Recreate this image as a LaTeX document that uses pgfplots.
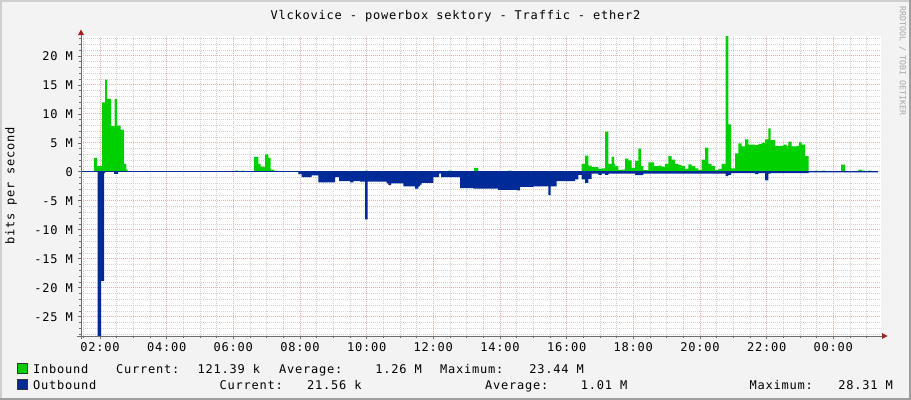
\documentclass[border=0pt]{standalone}
\usepackage{pgfplots}
\pgfplotsset{compat=1.18}
\usepackage{fontspec}
\newfontfamily\rrd[LetterSpace=6.5]{DejaVu Sans Mono}
\newfontfamily\rrdsm{DejaVu Sans Mono}
\newcommand\rrdf{\rrd\fontsize{12bp}{14bp}\selectfont}
\definecolor{inb}{HTML}{00CF00}
\definecolor{outb}{HTML}{002A97}
\definecolor{canvas}{HTML}{F3F3F3}
\definecolor{shadea}{HTML}{CFCFCF}
\definecolor{shadeb}{HTML}{9E9E9E}
\definecolor{axcol}{HTML}{6E6E6E}
\definecolor{arrowc}{HTML}{A02020}
\definecolor{mgridc}{HTML}{EBB0B0}
\definecolor{gridc}{HTML}{D2D2D2}
\definecolor{credit}{HTML}{A8A8A8}

% traffic in Mbit/s, x in hours (02:00 = 2, 00:00 = 24)
\pgfplotstableread{
h v
1.43 0
1.82 2.4
1.91 1.0
2.06 12.0
2.15 15.9
2.21 12.6
2.33 7.9
2.44 12.6
2.51 8.0
2.62 7.3
2.72 1.4
2.79 0.4
2.83 0
6.05 0.2
6.14 0
6.25 0.2
6.33 0
6.62 2.6
6.75 1.4
6.82 0.9
6.95 3.0
7.05 2.4
7.12 0.4
7.23 0
9.95 0.2
10.04 0
12.44 0.2
12.56 0
13.22 0.7
13.35 0
14.24 0.2
14.35 0
16.45 1.4
16.55 2.8
16.65 1.1
16.75 0.8
16.95 0.5
17.05 0.6
17.15 6.95
17.25 1.4
17.35 2.6
17.42 1.4
17.45 1.0
17.55 0.3
17.65 0.4
17.75 2.3
17.85 2.0
17.95 0.7
18.05 1.9
18.15 4.0
18.23 1.0
18.30 0.3
18.45 1.65
18.62 1.0
18.75 1.1
18.85 0.9
18.95 1.4
19.05 2.7
19.15 2.1
19.25 1.4
19.35 1.2
19.45 1.0
19.55 0.5
19.65 1.3
19.75 1.0
19.85 0.6
19.95 0.3
20.05 2.1
20.15 4.2
20.25 1.4
20.35 1.0
20.45 0.3
20.55 0.5
20.65 1.4
20.77 23.44
20.85 8.2
20.93 0.6
21.05 3.2
21.15 4.9
21.25 4.4
21.35 5.6
21.45 4.7
21.55 4.7
21.65 4.6
21.75 4.8
21.85 5.0
21.95 5.6
22.05 7.5
22.12 5.5
22.25 4.5
22.50 4.7
22.60 4.5
22.65 5.2
22.75 4.4
22.90 4.5
22.97 5.1
23.05 4.7
23.15 2.7
23.26 0
23.45 0.2
23.55 0
23.65 0.2
23.75 0
24.23 1.26
24.35 0
24.75 0.4
24.85 0.2
24.95 0
25.05 0.2
25.15 0
25.25 0.12
25.34 0
}\inbound

\pgfplotstableread{
h v
1.43 0
1.925 -28.31
2.03 -18.8
2.12 -0.2
2.15 0
2.42 -0.35
2.54 0
7.95 -0.4
8.05 -0.9
8.35 -0.6
8.55 -1.8
9.05 -0.9
9.17 -1.6
9.50 -1.8
9.60 -1.6
9.80 -1.7
9.95 -8.2
10.03 -1.7
10.60 -2.0
10.65 -2.3
10.73 -2.0
11.10 -2.5
11.45 -2.9
11.55 -2.5
11.60 -2.2
11.65 -1.9
12.00 -0.9
12.17 -0.3
12.23 -0.9
12.80 -2.8
13.20 -2.9
13.94 -3.1
14.50 -3.2
14.60 -2.6
15.00 -2.5
15.45 -4.0
15.52 -2.5
15.70 -1.6
16.25 -1.3
16.35 -0.5
16.45 -1.3
16.55 -1.9
16.65 -1.2
16.75 -0.3
16.95 -0.5
17.05 -0.3
17.15 -0.5
17.25 -0.3
18.05 -0.55
18.30 -0.3
20.77 -0.75
20.85 -0.5
20.93 -0.2
21.65 -0.4
21.75 -0.2
21.95 -1.45
22.05 -0.3
22.12 -0.2
23.26 -0.1
25.34 0
}\outbound

\begin{document}
\begin{tikzpicture}
\useasboundingbox (0,0) rectangle (911bp,-400bp);
\fill[canvas] (0,0) rectangle (911bp,-400bp);
\fill[shadea] (0,0) rectangle (911bp,-2bp);
\fill[shadea] (0,0) rectangle (2bp,-400bp);
\fill[shadeb] (909bp,0) rectangle (911bp,-400bp);
\fill[shadeb] (0,-398bp) rectangle (911bp,-400bp);

\begin{axis}[
    at={(81bp,-336bp)}, anchor=south west,
    scale only axis, width=800bp, height=300bp,
    xmin=1.43, xmax=25.43, ymin=-28.31, ymax=23.44,
    axis line style={draw=none},
    axis background/.style={fill=white},
    xtick={2,4,...,24},
    xticklabels={02:00,04:00,06:00,08:00,10:00,12:00,14:00,16:00,18:00,20:00,22:00,00:00},
    minor xtick={1.5,2.5,3,3.5,4.5,5,5.5,6.5,7,7.5,8.5,9,9.5,10.5,11,11.5,12.5,13,13.5,14.5,15,15.5,16.5,17,17.5,18.5,19,19.5,20.5,21,21.5,22.5,23,23.5,24.5,25},
    ytick={-25,-20,...,20},
    yticklabels={-25 M,-20 M,-15 M,-10 M,-5 M,0,5 M,10 M,15 M,20 M},
    minor ytick={-28,-27,-26,-24,-23,-22,-21,-19,-18,-17,-16,-14,-13,-12,-11,-9,-8,-7,-6,-4,-3,-2,-1,1,2,3,4,6,7,8,9,11,12,13,14,16,17,18,19,21,22,23},
    grid=both,
    major grid style={mgridc, line width=1bp, dash pattern=on 1bp off 1bp},
    minor grid style={gridc, line width=1bp, dash pattern=on 1bp off 1bp},
    tick pos=left, tick align=outside,
    major tick length=3bp, minor tick length=2bp,
    tick style={axcol, line width=0.8bp},
    ticklabel style={font=\rrdf, inner sep=0pt},
    xticklabel style={anchor=north, yshift=-3bp},
    yticklabel style={anchor=east, xshift=-5bp},
]
\addplot[const plot, fill=inb, draw=none] table[x=h, y=v] {\inbound};
\addplot[const plot, fill=outb, draw=none] table[x=h, y=v] {\outbound};
\addplot[outb, line width=1.2bp] coordinates {(1.43,0) (25.34,0)};
\end{axis}

% axes with arrows
\draw[axcol, line width=1bp] (77bp,-336bp) -- (883bp,-336bp);
\draw[axcol, line width=1bp] (81bp,-339bp) -- (81bp,-34bp);
\fill[arrowc] (882bp,-333bp) -- (887.5bp,-336bp) -- (882bp,-339bp) -- cycle;
\fill[arrowc] (78bp,-35bp) -- (81bp,-29.5bp) -- (84bp,-35bp) -- cycle;

% title, axis label, credit
\node[anchor=base, inner sep=0pt, font=\rrdf] at (455.5bp,-19bp) {Vlckovice - powerbox sektory - Traffic - ether2};
\node[rotate=90, inner sep=0pt, font=\rrdf] at (11bp,-186bp) {bits per second};
\node[rotate=-90, inner sep=0pt, text=credit, font=\rrdsm\fontsize{8.3bp}{10bp}\selectfont] at (902.5bp,-61bp) {RRDTOOL / TOBI OETIKER};

% legend
\filldraw[fill=inb, draw=black!80, line width=0.8bp] (17.5bp,-363.5bp) rectangle (27.5bp,-373.5bp);
\filldraw[fill=outb, draw=black!80, line width=0.8bp] (17.5bp,-379.5bp) rectangle (27.5bp,-389.5bp);
\begin{scope}[every node/.style={inner sep=0pt, font=\rrdf}]
\node[anchor=base west] at (33bp,-373bp) {Inbound};
\node[anchor=base west] at (116bp,-373bp) {Current:};
\node[anchor=base west] at (197.5bp,-373bp) {121.39 k};
\node[anchor=base west] at (279bp,-373bp) {Average:};
\node[anchor=base east] at (422bp,-373bp) {1.26 M};
\node[anchor=base west] at (440bp,-373bp) {Maximum:};
\node[anchor=base east] at (584bp,-373bp) {23.44 M};
\node[anchor=base west] at (33bp,-389bp) {Outbound};
\node[anchor=base west] at (219.5bp,-389bp) {Current:};
\node[anchor=base west] at (307bp,-389bp) {21.56 k};
\node[anchor=base west] at (485bp,-389bp) {Average:};
\node[anchor=base east] at (627.5bp,-389bp) {1.01 M};
\node[anchor=base west] at (749.5bp,-389bp) {Maximum:};
\node[anchor=base east] at (893bp,-389bp) {28.31 M};
\end{scope}
\end{tikzpicture}
\end{document}
